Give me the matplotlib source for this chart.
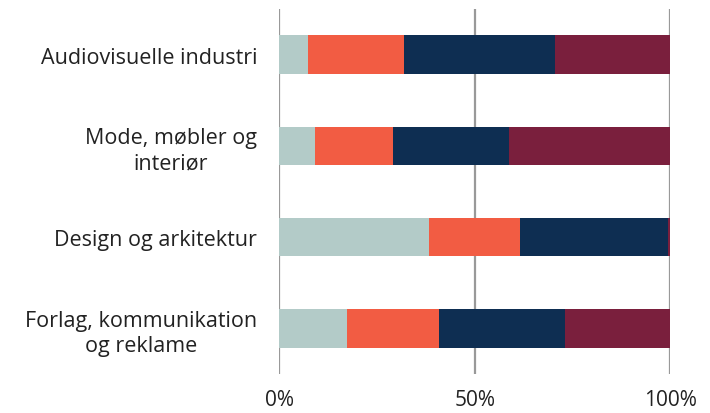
import matplotlib
matplotlib.use("Agg")
import matplotlib.pyplot as plt
import numpy as np

categories = ["Audiovisuelle industri", "Mode, møbler og\ninteriør",
              "Design og arkitektur", "Forlag, kommunikation\nog reklame"]
seg1 = [7.3, 9.1, 38.4, 17.4]
seg2 = [24.5, 19.9, 23.3, 23.4]
seg3 = [38.8, 29.8, 37.8, 32.3]
seg4 = [29.4, 41.2, 0.5, 26.9]
colors = ["#b3cbc8", "#f25c43", "#0e2e52", "#7a1f3d"]
xticks = [0, 50, 100]
xticklabels = ["0%", "50%", "100%"]

plt.rcParams['font.family'] = ['Open Sans', 'DejaVu Sans']

fig = plt.figure(figsize=(7.1, 4.14), dpi=100)
ax = fig.add_axes([279.3/710, 1-375/414, (670-279.3)/710, 365/414])

y = np.arange(len(categories))
left = np.zeros(len(categories))
for vals, c in zip([seg1, seg2, seg3, seg4], colors):
    ax.barh(y, vals, left=left, height=0.42, color=c, zorder=3)
    left += np.array(vals)

ax.set_xlim(0, 100)
ax.set_ylim(len(categories)-0.5, -0.5)
ax.set_xticks(xticks)
ax.set_xticklabels(xticklabels, fontsize=15, color="#222222")
ax.set_yticks(y)
ax.set_yticklabels(categories, fontsize=15.5, color="#222222", multialignment='center', linespacing=1.25)
ax.tick_params(axis='x', length=0, pad=11)
ax.tick_params(axis='y', length=0, pad=16)
for s in ax.spines.values():
    s.set_visible(False)
for xv in xticks:
    ax.axvline(xv, color="#999999", lw=1.6, zorder=1)

fig.savefig("out.png", dpi=100)
